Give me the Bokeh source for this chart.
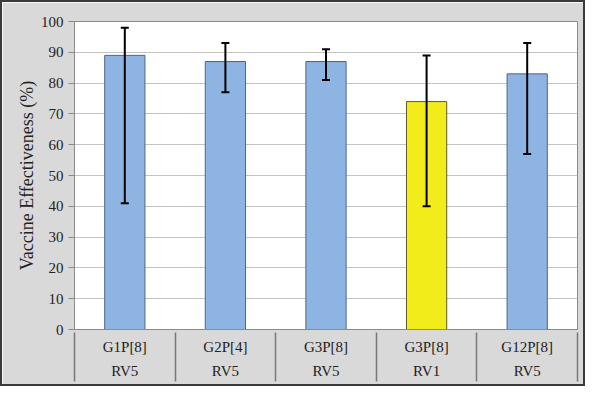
from bokeh.plotting import figure
from bokeh.models import (ColumnDataSource, Range1d, FixedTicker, LinearAxis,
                          Whisker, TeeHead)
from bokeh.embed import file_html
from bokeh.resources import INLINE

# ---- data ----
genotypes = ["G1P[8]", "G2P[4]", "G3P[8]", "G3P[8]", "G12P[8]"]
vaccines = ["RV5", "RV5", "RV5", "RV1", "RV5"]
effectiveness = [89, 87, 87, 74, 83]
ci_lower = [41, 77, 81, 40, 57]
ci_upper = [98, 93, 91, 89, 93]
y_ticks = [0, 10, 20, 30, 40, 50, 60, 70, 80, 90, 100]

# ---- styles ----
BG = "#d9d9d9"
vaccine_fill = {"RV5": "#8db4e2", "RV1": "#f2ec1a"}
vaccine_line = {"RV5": "#4a6788", "RV1": "#5e5a2a"}
SERIF = "Liberation Serif"
TXT = "#222222"

xs = list(range(1, len(genotypes) + 1))
src = ColumnDataSource(dict(
    x=xs, top=effectiveness, lower=ci_lower, upper=ci_upper,
    fill=[vaccine_fill[v] for v in vaccines],
    line=[vaccine_line[v] for v in vaccines],
))

p = figure(width=585, height=386, output_backend="svg", toolbar_location=None,
           x_range=Range1d(0.5, len(xs) + 0.5), y_range=Range1d(0, 100),
           x_axis_location=None, y_axis_location="left",
           min_border_left=72, min_border_right=10, min_border_top=19,
           min_border_bottom=59)
p.styles = {"border": "2px solid #3a3a3a", "box-sizing": "border-box"}
p.background_fill_color = "white"
p.border_fill_color = BG
p.outline_line_color = "#8a8a8a"
p.outline_line_width = 1

# y axis
ya = p.yaxis[0]
ya.ticker = FixedTicker(ticks=y_ticks, minor_ticks=[])
ya.axis_label = "Vaccine Effectiveness (%)"
ya.axis_label_text_font = SERIF
ya.axis_label_text_font_style = "normal"
ya.axis_label_text_font_size = "18px"
ya.axis_label_text_color = TXT
ya.axis_label_standoff = 1
ya.major_label_text_font = SERIF
ya.major_label_text_font_size = "15px"
ya.major_label_text_color = TXT
ya.major_label_standoff = 5
ya.major_tick_in = 0
ya.major_tick_out = 6
ya.major_tick_line_color = "#8a8a8a"
ya.axis_line_color = "#8a8a8a"

p.ygrid.ticker = FixedTicker(ticks=y_ticks)
p.ygrid.grid_line_color = "#c3c3c3"
p.xgrid.grid_line_color = None

# two-row category axis
def label_axis(labels, standoff, line_color):
    ax = LinearAxis(ticker=FixedTicker(ticks=xs, minor_ticks=[]),
                    major_label_overrides={x: t for x, t in zip(xs, labels)})
    ax.major_tick_in = 0
    ax.major_tick_out = 0
    ax.axis_line_color = line_color
    ax.major_label_standoff = standoff
    ax.major_label_text_font = SERIF
    ax.major_label_text_font_size = "15px"
    ax.major_label_text_color = TXT
    return ax

ax1 = label_axis(genotypes, 9, "#8a8a8a")
p.add_layout(ax1, "below")
ax2 = label_axis(vaccines, 5, None)
p.add_layout(ax2, "below")

# separators: minor ticks of a third, label-less axis reaching up to the frame
seps = [x - 0.5 for x in xs] + [xs[-1] + 0.5]
ax3 = LinearAxis(ticker=FixedTicker(ticks=[], minor_ticks=seps))
ax3.axis_line_color = None
ax3.major_tick_in = 0
ax3.major_tick_out = 0
ax3.minor_tick_in = 49
ax3.minor_tick_out = 0
ax3.minor_tick_line_color = "#7a7a7a"
ax3.minor_tick_line_width = 1.5
ax3.major_label_text_font_size = "0px"
ax3.major_label_standoff = 0
p.add_layout(ax3, "below")

# bars
p.vbar(x="x", top="top", bottom=0, width=0.4, source=src,
       fill_color="fill", line_color="line", line_width=1)

# error bars
w = Whisker(source=src, base="x", lower="lower", upper="upper",
            line_color="black", line_width=2, level="overlay",
            upper_head=TeeHead(size=8, line_width=2, line_color="black"),
            lower_head=TeeHead(size=8, line_width=2, line_color="black"))
p.add_layout(w)

open("out.html", "w").write(file_html(p, INLINE))
